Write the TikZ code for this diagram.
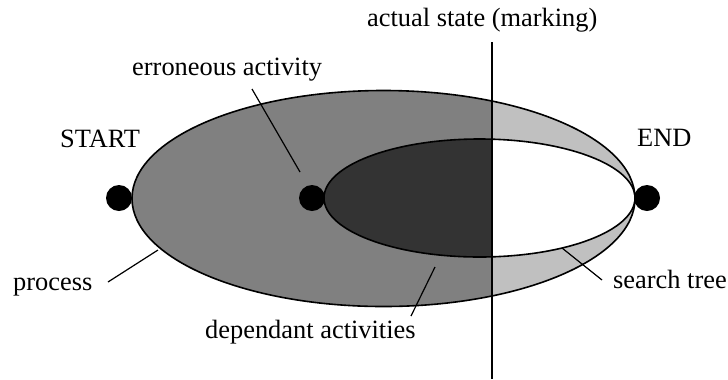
\documentclass[tikz,border=0pt]{standalone}
\usepackage{fontspec}
\setmainfont{Liberation Serif}
\definecolor{midgray}{RGB}{128,128,128}
\definecolor{lightgray2}{RGB}{192,192,192}
\definecolor{darkgray2}{RGB}{51,51,51}
\begin{document}
\begin{tikzpicture}[x=1bp,y=-1bp,
  lbl/.style={anchor=base west,inner sep=0pt,font=\fontsize{26.4bp}{30bp}\selectfont},
  dot/.style={circle,fill=black,inner sep=0pt,minimum size=26bp},
  leader/.style={line width=1.2bp},
  outline/.style={line width=1.6bp}]
\useasboundingbox (0,0) rectangle (728,379);
% outer ellipse fills
\fill[midgray] (383.5,198.5) ellipse [x radius=251.5bp, y radius=108bp];
\begin{scope}
  \clip (492,0) rectangle (728,379);
  \fill[lightgray2] (383.5,198.5) ellipse [x radius=251.5bp, y radius=108bp];
\end{scope}
% inner ellipse fills
\fill[white] (479.5,198) ellipse [x radius=155.5bp, y radius=59bp];
\begin{scope}
  \clip (0,0) rectangle (492,379);
  \fill[darkgray2] (479.5,198) ellipse [x radius=155.5bp, y radius=59bp];
\end{scope}
% outlines
\draw[outline] (383.5,198.5) ellipse [x radius=251.5bp, y radius=108bp];
\draw[outline] (479.5,198) ellipse [x radius=155.5bp, y radius=59bp];
% actual state line
\coordinate (vtop) at (492,42);
\coordinate (vbot) at (492,379);
\draw[leader] (vtop) -- (vbot);
% dots
\node[dot] (start) at (119,198) {};
\node[dot] (err) at (312,198) {};
\node[dot] (end) at (647,198) {};
% labels
\node[lbl] (state) at (367,26) {actual state (marking)};
\node[lbl] (errl) at (132,75) {erroneous activity};
\node[lbl] (startl) at (60,147) {START};
\node[lbl] (endl) at (637,146) {END};
\node[lbl] (procl) at (13,290) {process};
\node[lbl] (treel) at (613,288) {search tree};
\node[lbl] (depl) at (205,338) {dependant activities};
% leaders
\coordinate (e1) at (252,89);   \coordinate (e2) at (300,172);
\coordinate (p1) at (108,282);  \coordinate (p2) at (158,250);
\coordinate (t1) at (562,248);  \coordinate (t2) at (602,280);
\coordinate (d1) at (435,267);  \coordinate (d2) at (411,316);
\draw[leader] (e1) -- (e2);
\draw[leader] (p1) -- (p2);
\draw[leader] (t1) -- (t2);
\draw[leader] (d1) -- (d2);
\end{tikzpicture}
\end{document}
